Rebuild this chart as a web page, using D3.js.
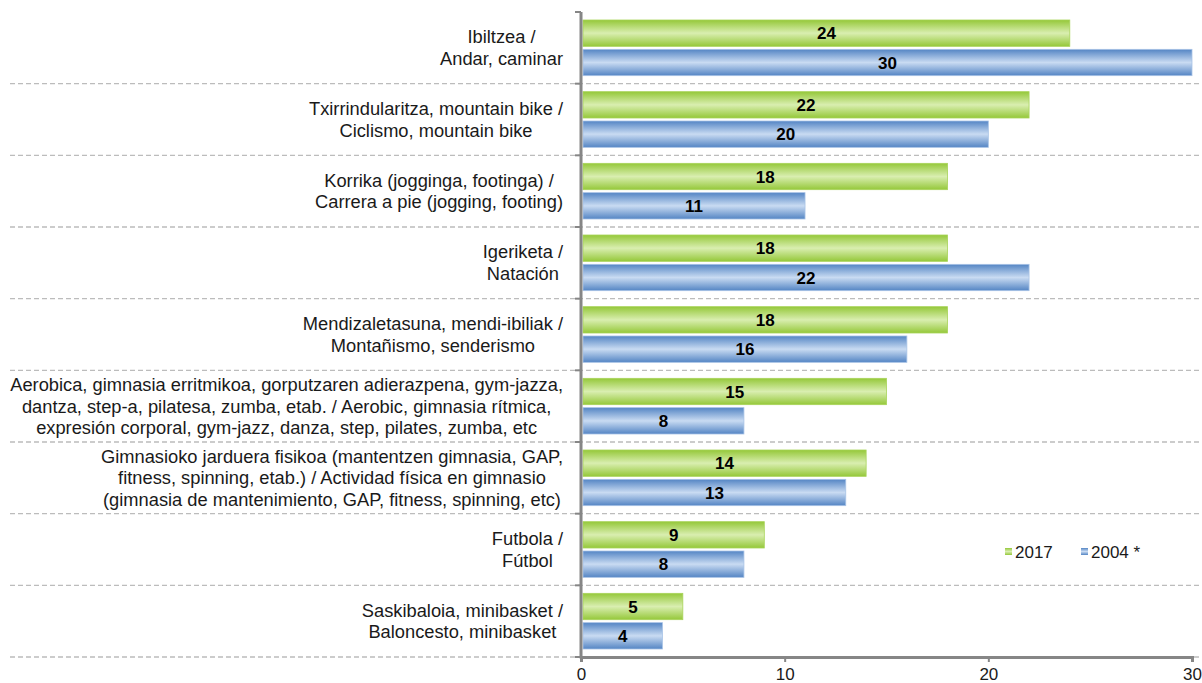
<!DOCTYPE html>
<html>
<head>
<meta charset="utf-8">
<script src="https://cdn.jsdelivr.net/npm/d3@7"></script>
<style>
  body { margin: 0; background: #fff; }
  text { font-family: "Liberation Sans", Arial, sans-serif; }
</style>
</head>
<body>
<div id="chart"></div>
<script>
// categories, each as the lines of its label
const categories = [
  ["Ibiltzea /", "Andar, caminar"],
  ["Txirrindularitza, mountain bike /", "Ciclismo, mountain bike"],
  ["Korrika (jogginga, footinga) /", "Carrera a pie (jogging, footing)"],
  ["Igeriketa /", "Natación"],
  ["Mendizaletasuna, mendi-ibiliak /", "Montañismo, senderismo"],
  ["Aerobica, gimnasia erritmikoa, gorputzaren adierazpena, gym-jazza,",
   "dantza, step-a, pilatesa, zumba, etab. / Aerobic, gimnasia rítmica,",
   "expresión corporal, gym-jazz, danza, step, pilates, zumba, etc"],
  ["Gimnasioko jarduera fisikoa (mantentzen gimnasia, GAP,",
   "fitness, spinning, etab.) / Actividad física en gimnasio",
   "(gimnasia de mantenimiento, GAP, fitness, spinning, etc)"],
  ["Futbola /", "Fútbol"],
  ["Saskibaloia, minibasket /", "Baloncesto, minibasket"]
];
const values2017 = [24, 22, 18, 18, 18, 15, 14, 9, 5];
const values2004 = [30, 20, 11, 22, 16, 8, 13, 8, 4];
const seriesNames = ["2017", "2004 *"];
const xTicks = [0, 10, 20, 30];

const W = 1202, H = 683;
const margin = { top: 12, right: 10, bottom: 26, left: 581 };

const svg = d3.select("#chart").append("svg")
  .attr("width", W).attr("height", H);

// gradients like the office bars
const defs = svg.append("defs");
function grad(id, edge, mid) {
  const g = defs.append("linearGradient").attr("id", id)
    .attr("x1", 0).attr("y1", 0).attr("x2", 0).attr("y2", 1);
  g.append("stop").attr("offset", "0%").attr("stop-color", edge);
  g.append("stop").attr("offset", "50%").attr("stop-color", mid);
  g.append("stop").attr("offset", "100%").attr("stop-color", edge);
}
grad("gGreen", "#95c83a", "#d9eeb0");
grad("gBlue", "#5485c4", "#c9dbf2");

const x = d3.scaleLinear().domain([0, 30]).range([margin.left, 1192]);
const y = d3.scaleBand().domain(d3.range(categories.length))
  .range([margin.top, H - margin.bottom]);
const bandH = y.bandwidth();

// dashed separators
svg.append("g").selectAll("line")
  .data(d3.range(1, categories.length + 1))
  .join("line")
  .attr("x1", 10).attr("x2", W)
  .attr("y1", i => y(0) + i * bandH).attr("y2", i => y(0) + i * bandH)
  .attr("stroke", "#bcbcbc").attr("stroke-width", 1.3)
  .attr("stroke-dasharray", "5,3");

// bars
const pad = 8, gap = 3;
const barH = (bandH - 2 * pad - gap) / 2;
const series = [
  { vals: values2017, fill: "url(#gGreen)", stroke: "#a9d45a", off: pad },
  { vals: values2004, fill: "url(#gBlue)", stroke: "#a8c3e6", off: pad + barH + gap }
];
series.forEach(s => {
  const g = svg.append("g");
  g.selectAll("rect").data(s.vals).join("rect")
    .attr("x", x(0) + 2)
    .attr("y", (d, i) => y(i) + s.off)
    .attr("width", d => x(d) - x(0) - 2)
    .attr("height", barH)
    .attr("fill", s.fill)
    .attr("stroke", s.stroke).attr("stroke-width", 0.8);
  g.selectAll("text").data(s.vals).join("text")
    .attr("x", d => (x(0) + 2 + x(d)) / 2)
    .attr("y", (d, i) => y(i) + s.off + barH / 2)
    .attr("dy", "0.36em")
    .attr("text-anchor", "middle")
    .style("font-size", "17px").style("font-weight", "bold")
    .attr("fill", "#000")
    .text(d => d);
});

// category labels: lines centred inside a block right aligned to the axis
const labelRight = 563, lineH = 21.5;
categories.forEach((lines, i) => {
  const g = svg.append("g");
  const texts = lines.map(l => g.append("text")
    .style("font-size", "18.3px").attr("fill", "#1a1a1a").text(l));
  const widths = texts.map(t => t.node().getComputedTextLength());
  const maxW = d3.max(widths);
  const cy = y(i) + bandH / 2;
  const y0 = cy - (lines.length - 1) * lineH / 2;
  texts.forEach((t, k) => {
    t.attr("x", labelRight - maxW / 2).attr("text-anchor", "middle")
      .attr("y", y0 + k * lineH).attr("dy", "0.35em");
  });
});

// axes
const axisColor = "#868686";
svg.append("line")
  .attr("x1", x(0)).attr("x2", x(0))
  .attr("y1", margin.top).attr("y2", H - margin.bottom + 1.5)
  .attr("stroke", axisColor).attr("stroke-width", 3);
svg.append("g").selectAll("line")
  .data(d3.range(0, categories.length + 1))
  .join("line")
  .attr("x1", x(0) - 6).attr("x2", x(0))
  .attr("y1", i => y(0) + i * bandH).attr("y2", i => y(0) + i * bandH)
  .attr("stroke", axisColor).attr("stroke-width", 2);

const xAxis = svg.append("g")
  .attr("transform", `translate(0,${H - margin.bottom})`)
  .call(d3.axisBottom(x).tickValues(xTicks).tickSize(5).tickPadding(6));
xAxis.select(".domain").attr("stroke", axisColor).attr("stroke-width", 3);
xAxis.selectAll(".tick line").attr("stroke", axisColor).attr("stroke-width", 2);
xAxis.selectAll(".tick text")
  .style("font-size", "17px").attr("fill", "#1a1a1a")
  .attr("font-family", "Liberation Sans, Arial, sans-serif");

// legend
const legend = svg.append("g").attr("transform", "translate(1005,552)");
const legFills = ["url(#gGreen)", "url(#gBlue)"];
const legX = [0, 76];
seriesNames.forEach((n, i) => {
  legend.append("rect").attr("x", legX[i]).attr("y", -4)
    .attr("width", 7).attr("height", 7).attr("fill", legFills[i]);
  legend.append("text").attr("x", legX[i] + 10).attr("y", 0).attr("dy", "0.35em")
    .style("font-size", "17px").attr("fill", "#1a1a1a").text(n);
});
</script>
</body>
</html>
